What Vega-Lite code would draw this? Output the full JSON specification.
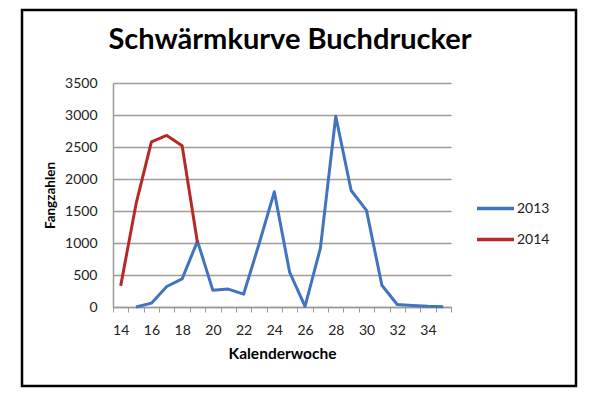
{
  "$schema": "https://vega.github.io/schema/vega-lite/v6.json",
  "autosize": "none",
  "width": 554,
  "height": 376,
  "padding": {"left": 22, "top": 10, "right": 24, "bottom": 13},
  "background": "white",
  "config": {
    "font": "Lato",
    "view": {"stroke": "black", "strokeWidth": 2.5, "fill": "white"}
  },
  "title": {
    "text": "Schwärmkurve Buchdrucker",
    "font": "Lato",
    "fontSize": 29,
    "fontWeight": "bold",
    "color": "black",
    "anchor": "middle",
    "frame": "group",
    "baseline": "alphabetic",
    "dx": -9,
    "offset": -68
  },
  "data": {
    "values": [
      {"week": 15, "year": "2013", "count": 0},
      {"week": 16, "year": "2013", "count": 60},
      {"week": 17, "year": "2013", "count": 320},
      {"week": 18, "year": "2013", "count": 440},
      {"week": 19, "year": "2013", "count": 1030},
      {"week": 20, "year": "2013", "count": 260},
      {"week": 21, "year": "2013", "count": 280},
      {"week": 22, "year": "2013", "count": 200},
      {"week": 23, "year": "2013", "count": 980},
      {"week": 24, "year": "2013", "count": 1800},
      {"week": 25, "year": "2013", "count": 540},
      {"week": 26, "year": "2013", "count": 10},
      {"week": 27, "year": "2013", "count": 920},
      {"week": 28, "year": "2013", "count": 2980},
      {"week": 29, "year": "2013", "count": 1820},
      {"week": 30, "year": "2013", "count": 1510},
      {"week": 31, "year": "2013", "count": 340},
      {"week": 32, "year": "2013", "count": 40},
      {"week": 33, "year": "2013", "count": 25},
      {"week": 34, "year": "2013", "count": 10},
      {"week": 35, "year": "2013", "count": 3},
      {"week": 14, "year": "2014", "count": 330},
      {"week": 15, "year": "2014", "count": 1610},
      {"week": 16, "year": "2014", "count": 2580},
      {"week": 17, "year": "2014", "count": 2680},
      {"week": 18, "year": "2014", "count": 2520},
      {"week": 19, "year": "2014", "count": 1000}
    ]
  },
  "mark": {"type": "line", "strokeWidth": 3, "strokeJoin": "round"},
  "encoding": {
    "x": {
      "field": "week",
      "type": "quantitative",
      "scale": {"domain": [13.5, 35.5], "range": [91, 429], "nice": false, "zero": false},
      "axis": {
        "title": "Kalenderwoche",
        "titleFont": "Lato",
        "titleFontSize": 15.5,
        "titleFontWeight": "bold",
        "titleColor": "black",
        "titlePadding": 9,
        "offset": -79,
        "values": [13.5, 14.5, 15.5, 16.5, 17.5, 18.5, 19.5, 20.5, 21.5, 22.5, 23.5, 24.5, 25.5, 26.5, 27.5, 28.5, 29.5, 30.5, 31.5, 32.5, 33.5, 34.5, 35.5],
        "labelExpr": "datum.value < 35 && (datum.value + 0.5) % 2 == 0 ? '' + (datum.value + 0.5) : ''",
        "labelOffset": 7.7,
        "labelFlush": false,
        "labelOverlap": false,
        "labelBound": false,
        "labelFontSize": 14,
        "labelColor": "#222",
        "labelPadding": 11,
        "tickSize": 5,
        "tickColor": "#9a9a9a",
        "domainColor": "#9a9a9a",
        "domainWidth": 1.5,
        "grid": false
      }
    },
    "y": {
      "field": "count",
      "type": "quantitative",
      "scale": {"domain": [0, 3500], "range": [297, 73], "nice": false},
      "axis": {
        "title": "Fangzahlen",
        "titleFont": "Lato",
        "titleFontSize": 13.5,
        "titleFontWeight": "bold",
        "titleColor": "black",
        "titlePadding": 7,
        "offset": -91,
        "values": [0, 500, 1000, 1500, 2000, 2500, 3000, 3500],
        "format": "d",
        "labelFontSize": 14,
        "labelColor": "#222",
        "labelPadding": 16,
        "ticks": false,
        "domainColor": "#9a9a9a",
        "domainWidth": 1.5,
        "grid": true,
        "gridColor": "#a19c97",
        "gridWidth": 1.5
      }
    },
    "color": {
      "field": "year",
      "type": "nominal",
      "scale": {"domain": ["2013", "2014"], "range": ["#4174c0", "#b52a26"]},
      "legend": {
        "title": null,
        "orient": "none",
        "legendX": 453,
        "legendY": 178,
        "padding": 0,
        "symbolType": "stroke",
        "symbolSize": 1369,
        "symbolStrokeWidth": 3.5,
        "rowPadding": 3,
        "labelFontSize": 14,
        "labelColor": "#222",
        "labelOffset": 1
      }
    }
  }
}
